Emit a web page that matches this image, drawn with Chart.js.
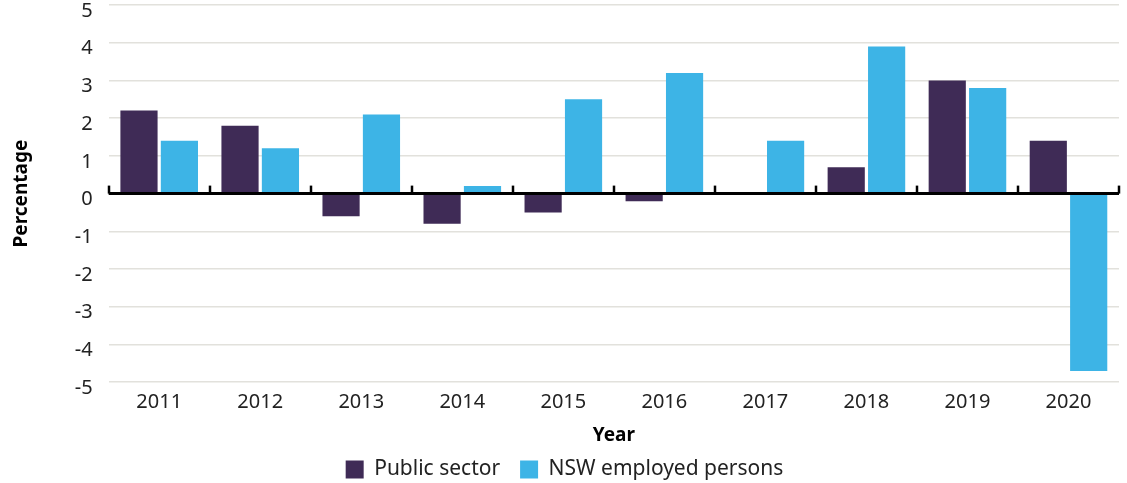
<!DOCTYPE html>
<html>
<head>
<meta charset="utf-8">
<script src="https://cdn.jsdelivr.net/npm/chart.js@4"></script>
<style>
    html, body { margin: 0; padding: 0; background: #fff; }
    #wrap { width: 1127px; height: 483px; }
</style>
</head>
<body>
<div id="wrap"><canvas id="chart"></canvas></div>
<script>
const years = ['2011', '2012', '2013', '2014', '2015', '2016', '2017', '2018', '2019', '2020'];
const publicSector = [2.2, 1.8, -0.6, -0.8, -0.5, -0.2, 0, 0.7, 3.0, 1.4];
const nswEmployed = [1.4, 1.2, 2.1, 0.2, 2.5, 3.2, 1.4, 3.9, 2.8, -4.7];
const yTicks = [-5, -4, -3, -2, -1, 0, 1, 2, 3, 4, 5];

const fontFamily = '"Noto Sans", sans-serif';

// zero line with the little tick marks between years
const zeroAxis = {
    id: 'zeroAxis',
    afterDatasetsDraw(chart) {
        const { ctx, chartArea, scales } = chart;
        const y0 = scales.y.getPixelForValue(0);
        ctx.save();
        ctx.strokeStyle = '#000';
        ctx.lineWidth = 3;
        ctx.beginPath();
        ctx.moveTo(chartArea.left, y0);
        ctx.lineTo(chartArea.right, y0);
        ctx.stroke();
        const step = (chartArea.right - chartArea.left) / years.length;
        ctx.lineWidth = 2.5;
        for (let i = 0; i <= years.length; i++) {
            const x = Math.round(chartArea.left + i * step);
            ctx.beginPath();
            ctx.moveTo(x, y0);
            ctx.lineTo(x, y0 - 8);
            ctx.stroke();
        }
        ctx.restore();
    }
};

new Chart(document.getElementById('chart'), {
    type: 'bar',
    data: {
        labels: years,
        datasets: [
            {
                label: 'Public sector',
                data: publicSector,
                backgroundColor: '#3f2b56',
                categoryPercentage: 0.8,
                barPercentage: 0.92
            },
            {
                label: 'NSW employed persons',
                data: nswEmployed,
                backgroundColor: '#3db4e6',
                categoryPercentage: 0.8,
                barPercentage: 0.92
            }
        ]
    },
    options: {
        responsive: true,
        maintainAspectRatio: false,
        animation: false,
        layout: { padding: { top: 5, right: 8, left: 10, bottom: -7 } },
        plugins: {
            legend: {
                position: 'bottom',
                labels: {
                    boxWidth: 18,
                    boxHeight: 18,
                    padding: 20,
                    color: '#222',
                    font: { family: fontFamily, size: 21 }
                }
            },
            tooltip: { enabled: false }
        },
        scales: {
            x: {
                grid: { display: false },
                border: { display: false },
                ticks: {
                    color: '#222',
                    padding: 0,
                    font: { family: fontFamily, size: 20 }
                },
                title: {
                    display: true,
                    text: 'Year',
                    color: '#000',
                    padding: { top: 10, bottom: -8 },
                    font: { family: fontFamily, size: 19, weight: 'bold' }
                }
            },
            y: {
                min: -5,
                max: 5,
                afterBuildTicks(axis) {
                    axis.ticks = yTicks.map(v => ({ value: v }));
                },
                afterFit(axis) {
                    axis.paddingTop = 0;
                    axis.paddingBottom = 0;
                },
                grid: {
                    color: ctx => ctx.tick && ctx.tick.value === 0 ? 'rgba(0,0,0,0)' : '#e2e1dc',
                    lineWidth: 1.5,
                    drawTicks: false
                },
                border: { display: false },
                ticks: {
                    color: '#222',
                    padding: 16,
                    labelOffset: 6,
                    font: { family: fontFamily, size: 20 }
                },
                title: {
                    display: true,
                    text: 'Percentage',
                    color: '#000',
                    padding: { top: 0, bottom: 26 },
                    font: { family: fontFamily, size: 19, weight: 'bold' }
                }
            }
        }
    },
    plugins: [zeroAxis]
});
</script>
</body>
</html>
